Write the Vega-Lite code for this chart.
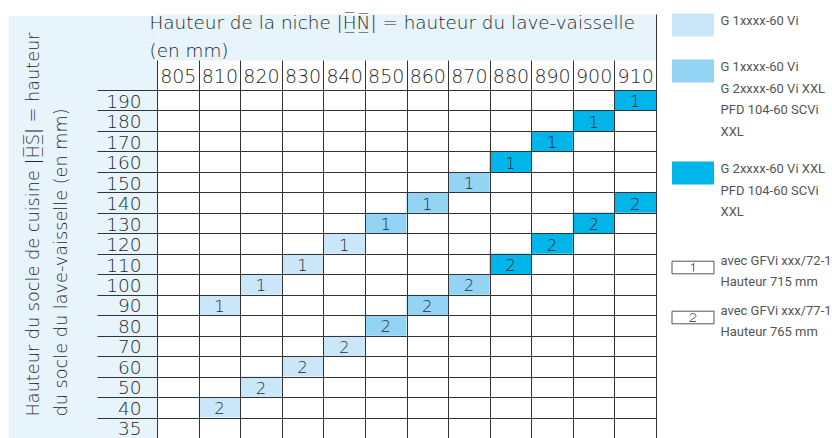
{
  "$schema": "https://vega.github.io/schema/vega-lite/v6.json",
  "width": 499,
  "height": 348,
  "autosize": {"type": "none"},
  "padding": {"left": 157, "top": 90, "right": 176, "bottom": 0},
  "background": "#ffffff",
  "config": {
    "view": {"stroke": null},
    "style": {"guide-label": {"lineHeight": 21.5}}
  },
  "datasets": {
    "cells": [
      {"hn": 910, "hs": 190, "num": 1, "type": "G 2xxxx-60 Vi XXL\nPFD 104-60 SCVi\nXXL"},
      {"hn": 900, "hs": 180, "num": 1, "type": "G 2xxxx-60 Vi XXL\nPFD 104-60 SCVi\nXXL"},
      {"hn": 890, "hs": 170, "num": 1, "type": "G 2xxxx-60 Vi XXL\nPFD 104-60 SCVi\nXXL"},
      {"hn": 880, "hs": 160, "num": 1, "type": "G 2xxxx-60 Vi XXL\nPFD 104-60 SCVi\nXXL"},
      {"hn": 870, "hs": 150, "num": 1, "type": "G 1xxxx-60 Vi\nG 2xxxx-60 Vi XXL\nPFD 104-60 SCVi\nXXL"},
      {"hn": 860, "hs": 140, "num": 1, "type": "G 1xxxx-60 Vi\nG 2xxxx-60 Vi XXL\nPFD 104-60 SCVi\nXXL"},
      {"hn": 850, "hs": 130, "num": 1, "type": "G 1xxxx-60 Vi\nG 2xxxx-60 Vi XXL\nPFD 104-60 SCVi\nXXL"},
      {"hn": 840, "hs": 120, "num": 1, "type": "G 1xxxx-60 Vi"},
      {"hn": 830, "hs": 110, "num": 1, "type": "G 1xxxx-60 Vi"},
      {"hn": 820, "hs": 100, "num": 1, "type": "G 1xxxx-60 Vi"},
      {"hn": 810, "hs": 90, "num": 1, "type": "G 1xxxx-60 Vi"},
      {"hn": 910, "hs": 140, "num": 2, "type": "G 2xxxx-60 Vi XXL\nPFD 104-60 SCVi\nXXL"},
      {"hn": 900, "hs": 130, "num": 2, "type": "G 2xxxx-60 Vi XXL\nPFD 104-60 SCVi\nXXL"},
      {"hn": 890, "hs": 120, "num": 2, "type": "G 2xxxx-60 Vi XXL\nPFD 104-60 SCVi\nXXL"},
      {"hn": 880, "hs": 110, "num": 2, "type": "G 2xxxx-60 Vi XXL\nPFD 104-60 SCVi\nXXL"},
      {"hn": 870, "hs": 100, "num": 2, "type": "G 1xxxx-60 Vi\nG 2xxxx-60 Vi XXL\nPFD 104-60 SCVi\nXXL"},
      {"hn": 860, "hs": 90, "num": 2, "type": "G 1xxxx-60 Vi\nG 2xxxx-60 Vi XXL\nPFD 104-60 SCVi\nXXL"},
      {"hn": 850, "hs": 80, "num": 2, "type": "G 1xxxx-60 Vi\nG 2xxxx-60 Vi XXL\nPFD 104-60 SCVi\nXXL"},
      {"hn": 840, "hs": 70, "num": 2, "type": "G 1xxxx-60 Vi"},
      {"hn": 830, "hs": 60, "num": 2, "type": "G 1xxxx-60 Vi"},
      {"hn": 820, "hs": 50, "num": 2, "type": "G 1xxxx-60 Vi"},
      {"hn": 810, "hs": 40, "num": 2, "type": "G 1xxxx-60 Vi"}
    ],
    "notes": [
      {"num": 1, "note": "avec GFVi xxx/72-1\nHauteur 715 mm"},
      {"num": 2, "note": "avec GFVi xxx/77-1\nHauteur 765 mm"}
    ]
  },
  "data": {"name": "cells"},
  "layer": [
    {
      "mark": {"type": "rect"},
      "encoding": {
        "x": {
          "field": "hn", "type": "ordinal",
          "scale": {"type": "band", "domain": [805, 810, 820, 830, 840, 850, 860, 870, 880, 890, 900, 910], "paddingInner": 0, "paddingOuter": 0},
          "axis": {"orient": "top", "offset": 53, "domain": true, "domainWidth": 46, "domainColor": "#e7f4fc", "domainCap": "butt", "ticks": false, "labels": false, "grid": false, "title": null, "zindex": 0}
        },
        "y": {
          "field": "hs", "type": "ordinal",
          "scale": {"type": "band", "domain": [190, 180, 170, 160, 150, 140, 130, 120, 110, 100, 90, 80, 70, 60, 50, 40, 35], "paddingInner": 0, "paddingOuter": 0},
          "axis": {"orient": "left", "offset": 74.5, "domain": true, "domainWidth": 149, "domainColor": "#e7f4fc", "domainCap": "square", "ticks": false, "labels": false, "grid": false, "title": null, "zindex": 0}
        },
        "fill": {
          "field": "type", "type": "nominal",
          "scale": {
            "domain": ["G 1xxxx-60 Vi", "G 1xxxx-60 Vi\nG 2xxxx-60 Vi XXL\nPFD 104-60 SCVi\nXXL", "G 2xxxx-60 Vi XXL\nPFD 104-60 SCVi\nXXL"],
            "range": ["#c9e7f8", "#93d3f4", "#00b5e9"]
          },
          "legend": {
            "orient": "none", "legendX": 515, "legendY": -86, "title": null,
            "symbolType": "M-1,-0.548H1V0.548H-1Z", "symbolSize": 1764, "symbolStrokeWidth": 0,
            "labelExpr": "split(datum.label, '\\n')",
            "labelFont": "Roboto", "labelFontSize": 13, "labelColor": "#555555",
            "labelOffset": 6.5, "labelBaseline": "alphabetic", "labelLimit": 250,
            "rowPadding": 13, "padding": 0
          }
        }
      }
    },
    {
      "mark": {"type": "text", "font": "DejaVu Sans", "fontWeight": 200, "fontSize": 16.5, "color": "#2a2a2a", "baseline": "middle", "dy": 2},
      "encoding": {
        "x": {
          "field": "hn", "type": "ordinal",
          "scale": {"type": "band", "domain": [805, 810, 820, 830, 840, 850, 860, 870, 880, 890, 900, 910], "paddingInner": 0, "paddingOuter": 0},
          "axis": {
            "orient": "top", "tickBand": "extent", "ticks": true, "tickSize": 30, "tickColor": "#333333", "tickWidth": 1,
            "grid": true, "gridColor": "#333333", "gridWidth": 1, "gridOpacity": 1, "domain": false,
            "labelAngle": 0, "labelAlign": "center", "labelBaseline": "middle", "labelPadding": -16.7,
            "labelFont": "DejaVu Sans", "labelFontWeight": 200, "labelFontSize": 19, "labelColor": "#262626", "labelOverlap": false,
            "title": ["Hauteur de la niche |H\u0332\u0305N\u0332\u0305| = hauteur du lave-vaisselle", "(en mm)"],
            "titleX": -8, "titleY": -61.7, "titleAlign": "left", "titleBaseline": "alphabetic", "titleAngle": 0,
            "titleFont": "DejaVu Sans", "titleFontWeight": 200, "titleFontSize": 18.4, "titleColor": "#262626", "titleLineHeight": 28.5,
            "zindex": 1
          }
        },
        "y": {
          "field": "hs", "type": "ordinal",
          "scale": {"type": "band", "domain": [190, 180, 170, 160, 150, 140, 130, 120, 110, 100, 90, 80, 70, 60, 50, 40, 35], "paddingInner": 0, "paddingOuter": 0},
          "axis": {
            "orient": "left", "tickBand": "extent", "ticks": true, "tickSize": 60, "tickColor": "#333333", "tickWidth": 1,
            "grid": true, "gridColor": "#333333", "gridWidth": 1, "gridOpacity": 1, "domain": false,
            "labelAlign": "right", "labelBaseline": "middle", "labelPadding": -44, "labelOffset": 1,
            "labelFont": "DejaVu Sans", "labelFontWeight": 200, "labelFontSize": 18.5, "labelColor": "#262626", "labelOverlap": false,
            "title": ["Hauteur du socle de cuisine |H\u0332\u0305S\u0332\u0305| = hauteur", "du socle du lave-vaisselle (en mm)"],
            "titleX": -118.7, "titleY": 326, "titleAlign": "left", "titleBaseline": "alphabetic", "titleAngle": 270,
            "titleFont": "DejaVu Sans", "titleFontWeight": 200, "titleFontSize": 17.7, "titleColor": "#262626", "titleLineHeight": 28.5,
            "zindex": 1
          }
        },
        "text": {"field": "num", "type": "nominal"}
      }
    },
    {
      "transform": [
        {"lookup": "num", "from": {"data": {"name": "notes"}, "key": "num", "fields": ["note"]}}
      ],
      "mark": {"type": "point", "filled": true, "fill": "#ffffff", "stroke": "#555555", "strokeWidth": 1, "opacity": 0},
      "encoding": {
        "x": {
          "field": "hn", "type": "ordinal",
          "scale": {"type": "band", "domain": [805, 810, 820, 830, 840, 850, 860, 870, 880, 890, 900, 910], "paddingInner": 0, "paddingOuter": 0},
          "axis": {"orient": "top", "values": [910], "bandPosition": 1, "ticks": true, "tickSize": 76, "tickColor": "#333333", "tickWidth": 1, "labels": false, "domain": false, "grid": false, "title": null, "zindex": 1}
        },
        "y": {
          "field": "hs", "type": "ordinal",
          "scale": {"type": "band", "domain": [190, 180, 170, 160, 150, 140, 130, 120, 110, 100, 90, 80, 70, 60, 50, 40, 35], "paddingInner": 0, "paddingOuter": 0},
          "axis": null
        },
        "shape": {
          "field": "note", "type": "nominal",
          "scale": {
            "domain": ["avec GFVi xxx/72-1\nHauteur 715 mm", "avec GFVi xxx/77-1\nHauteur 765 mm"],
            "range": [
              "M-1,-0.3H1V0.3H-1ZM0.03,-0.19V0.19M0.03,-0.19L-0.09,-0.1",
              "M-1,-0.3H1V0.3H-1ZM-0.14,-0.1C-0.12,-0.22,0.14,-0.22,0.14,-0.08C0.14,0.02,-0.14,0.1,-0.15,0.19L0.15,0.19"
            ]
          },
          "legend": {
            "orient": "none", "legendX": 514.5, "legendY": 156, "title": null,
            "symbolSize": 1764, "symbolStrokeWidth": 1, "symbolOpacity": 1,
            "labelExpr": "split(datum.label, '\\n')",
            "labelFont": "Roboto", "labelFontSize": 13, "labelColor": "#555555",
            "labelOffset": 6, "labelBaseline": "bottom", "labelLimit": 250,
            "rowPadding": 7, "padding": 0
          }
        }
      }
    }
  ],
  "resolve": {"axis": {"x": "independent", "y": "independent"}}
}
